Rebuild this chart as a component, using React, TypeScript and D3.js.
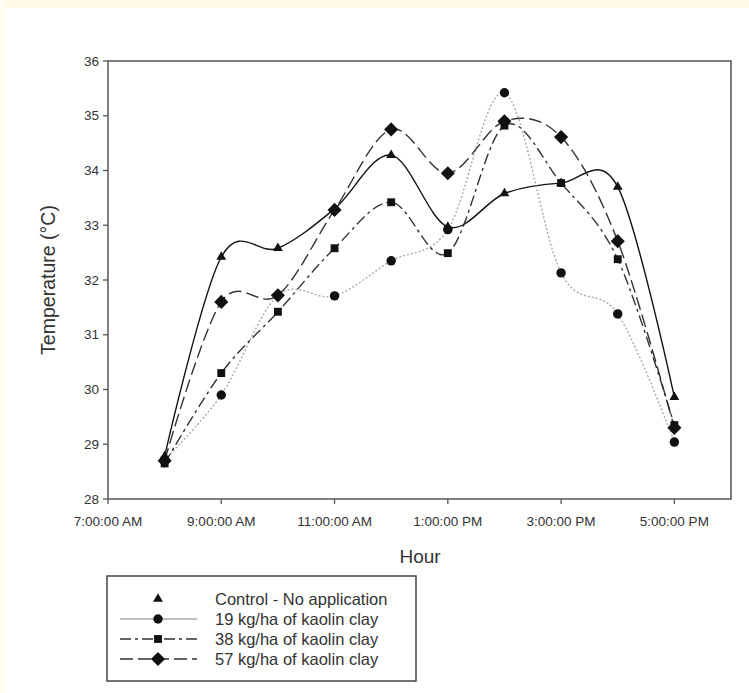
import React from "react";
import * as d3 from "d3";

const hours = [8, 9, 10, 11, 12, 13, 14, 15, 16, 17];
const control = [28.78, 32.42, 32.58, 33.3, 34.28, 32.97, 33.58, 33.77, 33.7, 29.86];
const kg19 = [28.72, 29.9, 31.72, 31.71, 32.35, 32.92, 35.42, 32.13, 31.38, 29.04];
const kg38 = [28.65, 30.3, 31.42, 32.58, 33.42, 32.49, 34.82, 33.77, 32.38, 29.35];
const kg57 = [28.7, 31.6, 31.72, 33.28, 34.75, 33.95, 34.9, 34.61, 32.71, 29.3];

const xTickHours = [7, 9, 11, 13, 15, 17];
const xTickLabels = ["7:00:00 AM", "9:00:00 AM", "11:00:00 AM", "1:00:00 PM", "3:00:00 PM", "5:00:00 PM"];
const yTicks = [28, 29, 30, 31, 32, 33, 34, 35, 36];

const seriesNames = [
  "Control - No application",
  "19 kg/ha of kaolin clay",
  "38 kg/ha of kaolin clay",
  "57 kg/ha of kaolin clay",
];

const W = 749;
const H = 693;
const left = 108, right = 731, top = 61, bottom = 499;

const font = "'Liberation Sans', Arial, sans-serif";

// square diamond (rotated square)
const diamondSym = {
  draw(context: any, size: number) {
    const r = Math.sqrt(size / 2);
    context.moveTo(0, -r);
    context.lineTo(r, 0);
    context.lineTo(0, r);
    context.lineTo(-r, 0);
    context.closePath();
  },
};

export default function App() {
  const x = d3.scaleLinear().domain([7, 18]).range([left, right]);
  const y = d3.scaleLinear().domain([28, 36]).range([bottom, top]);

  const series = [
    { name: seriesNames[0], values: control, stroke: "#111", width: 1.4, dash: "", symbol: d3.symbolTriangle as any, size: 42, legendLine: false },
    { name: seriesNames[1], values: kg19, stroke: "#aaa", width: 1.4, dash: "2,2", symbol: d3.symbolCircle as any, size: 70, legendLine: true },
    { name: seriesNames[2], values: kg38, stroke: "#333", width: 1.4, dash: "11,4,3,4", symbol: d3.symbolSquare as any, size: 62, legendLine: true },
    { name: seriesNames[3], values: kg57, stroke: "#333", width: 1.4, dash: "13,5", symbol: diamondSym as any, size: 100, legendLine: true },
  ];

  const line = d3
    .line<number>()
    .x((_, i) => x(hours[i]))
    .y((d) => y(d))
    .curve(d3.curveCardinal.tension(0));

  const legendX = 107, legendY = 576, legendW = 309, legendH = 105;
  const rowY = [599, 619, 639, 659];

  return (
    <svg
      width={W}
      height={H}
      style={{ position: "absolute", left: 0, top: 0, background: "#fff" }}
      fontFamily={font}
    >
      <rect x={0} y={0} width={W} height={H} fill="#ffffff" />
      <rect x={0} y={0} width={W} height={8} fill="#fffbe8" />
      <rect x={0} y={0} width={5} height={H} fill="#fffdf2" />

      {/* frame */}
      <rect x={left} y={top} width={right - left} height={bottom - top} fill="none" stroke="#555" strokeWidth={1.5} />

      {/* y ticks */}
      {yTicks.map((t) => (
        <g key={t}>
          <line x1={left - 5} x2={left} y1={y(t)} y2={y(t)} stroke="#555" strokeWidth={1.3} />
          <text x={left - 9} y={y(t)} dy="0.35em" textAnchor="end" fontSize={13.5} fill="#333">
            {t}
          </text>
        </g>
      ))}

      {/* x ticks */}
      {xTickHours.map((h, i) => (
        <g key={h}>
          <line x1={x(h)} x2={x(h)} y1={bottom} y2={bottom + 5} stroke="#555" strokeWidth={1.3} />
          <text x={x(h)} y={bottom + 27} textAnchor="middle" fontSize={13.5} fill="#333">
            {xTickLabels[i]}
          </text>
        </g>
      ))}

      <text x={420} y={563} textAnchor="middle" fontSize={19} fill="#333">Hour</text>
      <text
        transform={`translate(55, ${280}) rotate(-90)`}
        textAnchor="middle"
        fontSize={19.5}
        fill="#333"
      >
        Temperature (°C)
      </text>

      {/* lines */}
      {series.map((s) => (
        <path
          key={s.name}
          d={line(s.values) || ""}
          fill="none"
          stroke={s.stroke}
          strokeWidth={s.width}
          strokeDasharray={s.dash}
        />
      ))}

      {/* markers */}
      {series.map((s) =>
        s.values.map((v, i) => (
          <path
            key={s.name + i}
            d={d3.symbol().type(s.symbol).size(s.size)() || ""}
            transform={`translate(${x(hours[i])},${y(v)})`}
            fill="#111"
          />
        ))
      )}

      {/* legend */}
      <rect x={legendX} y={legendY} width={legendW} height={legendH} fill="#fff" stroke="#444" strokeWidth={1.5} />
      {series.map((s, i) => (
        <g key={"lg" + i}>
          {s.legendLine && (
            <line
              x1={120}
              x2={197}
              y1={rowY[i]}
              y2={rowY[i]}
              stroke={s.stroke}
              strokeWidth={1.4}
              strokeDasharray={i === 1 ? "" : s.dash}
            />
          )}
          <path
            d={d3.symbol().type(s.symbol).size(s.size)() || ""}
            transform={`translate(158,${rowY[i]})`}
            fill="#111"
          />
          <text x={215} y={rowY[i]} dy="0.35em" fontSize={16.5} fill="#333">
            {s.name}
          </text>
        </g>
      ))}
    </svg>
  );
}
